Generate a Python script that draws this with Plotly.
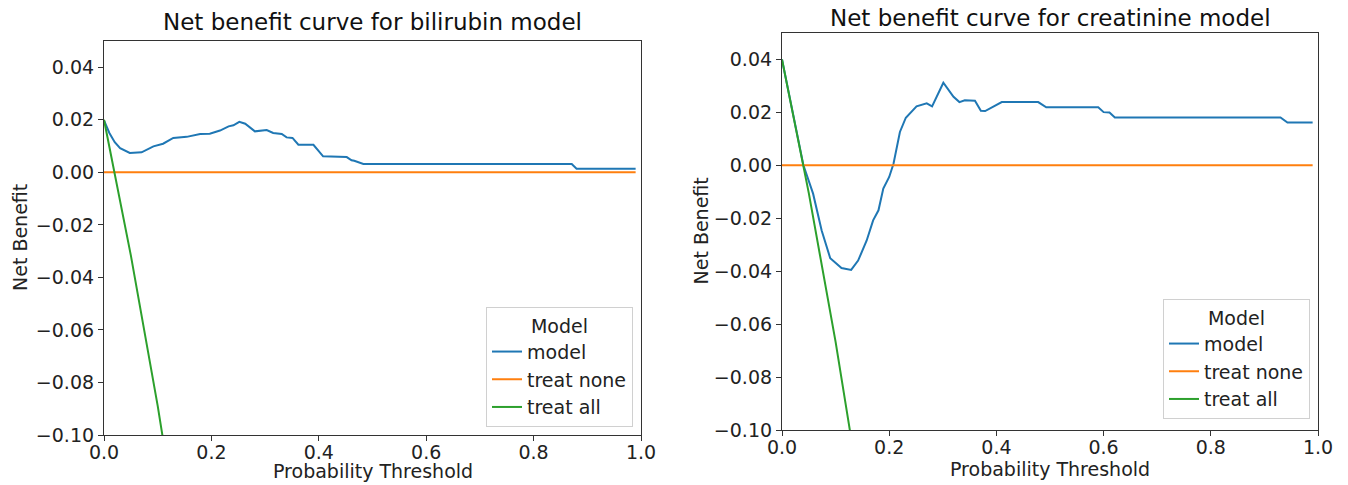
import plotly.graph_objects as go

# ---------------- data ----------------
# Bilirubin model (left panel)
bili_threshold = [0.00, 0.01, 0.02, 0.03, 0.048, 0.07, 0.092, 0.11, 0.129, 0.154, 0.179, 0.197,
                  0.216, 0.232, 0.241, 0.252, 0.263, 0.281, 0.303, 0.315, 0.331, 0.340, 0.351,
                  0.362, 0.390, 0.408, 0.452, 0.461, 0.466, 0.483, 0.871, 0.880, 0.99]
bili_model = [0.0198, 0.0150, 0.0115, 0.0092, 0.0074, 0.0076, 0.0099, 0.0109, 0.0131, 0.0135,
              0.0146, 0.0147, 0.0159, 0.0175, 0.0179, 0.0192, 0.0185, 0.0156, 0.0161, 0.0150,
              0.0146, 0.0133, 0.0131, 0.0105, 0.0105, 0.0061, 0.0058, 0.0046, 0.0044, 0.0032,
              0.0032, 0.0014, 0.0014]
bili_none_x = [0.0, 0.99]
bili_none_y = [0.0, 0.0]
bili_all_x = [0.00, 0.05, 0.10, 0.12, 0.15]
bili_all_y = [0.0200, -0.0316, -0.0889, -0.1136, -0.1529]

# Creatinine model (right panel)
crea_threshold = [0.00, 0.02, 0.04, 0.058, 0.074, 0.09, 0.111, 0.129, 0.142, 0.158, 0.170, 0.180,
                  0.189, 0.200, 0.208, 0.220, 0.231, 0.251, 0.270, 0.280, 0.301, 0.320, 0.331,
                  0.341, 0.360, 0.371, 0.379, 0.410, 0.478, 0.493, 0.590, 0.600, 0.611, 0.621,
                  0.930, 0.943, 0.99]
crea_model = [0.0400, 0.0200, 0.0000, -0.0107, -0.0246, -0.0351, -0.0388, -0.0395, -0.0360,
              -0.0284, -0.0208, -0.0170, -0.0088, -0.0044, 0.0006, 0.0126, 0.0180, 0.0223,
              0.0234, 0.0223, 0.0312, 0.0259, 0.0239, 0.0246, 0.0244, 0.0206, 0.0205, 0.0239,
              0.0239, 0.0219, 0.0219, 0.0201, 0.0200, 0.0181, 0.0181, 0.0162, 0.0162]
crea_none_x = [0.0, 0.99]
crea_none_y = [0.0, 0.0]
crea_all_x = [0.00, 0.05, 0.10, 0.12, 0.15]
crea_all_y = [0.0400, -0.0105, -0.0667, -0.0909, -0.1294]

series_names = ["model", "treat none", "treat all"]
series_colors = ["#1f77b4", "#ff7f0e", "#2ca02c"]

y_ticks = [-0.10, -0.08, -0.06, -0.04, -0.02, 0.00, 0.02, 0.04]
x_ticks = [0.0, 0.2, 0.4, 0.6, 0.8, 1.0]

titles = ["Net benefit curve for bilirubin model", "Net benefit curve for creatinine model"]
x_label = "Probability Threshold"
y_label = "Net Benefit"
legend_title = "Model"

# ---------------- figure ----------------
OFF = 8                      # page body margin of the html page
W, H = 1348 - OFF, 485 - OFF
FONT = "DejaVu Sans"


def px(xw):
    return (xw - OFF) / W


def py(yw):
    return 1 - (yw - OFF) / H


fig = go.Figure()

panels = [
    ("x", "y", "legend", [(bili_threshold, bili_model), (bili_none_x, bili_none_y), (bili_all_x, bili_all_y)]),
    ("x2", "y2", "legend2", [(crea_threshold, crea_model), (crea_none_x, crea_none_y), (crea_all_x, crea_all_y)]),
]
for xa, ya, lg, data in panels:
    for (xs, ys), name, col in zip(data, series_names, series_colors):
        fig.add_trace(go.Scatter(x=xs, y=ys, mode="lines", name=name, xaxis=xa, yaxis=ya,
                                 legend=lg, line=dict(color=col, width=2), cliponaxis=True))

axis_common = dict(showgrid=False, zeroline=False, showline=True, mirror=True, automargin=False,
                   linecolor="#333333", linewidth=1.2, ticks="outside", ticklen=5,
                   tickcolor="#333333", tickfont=dict(family=FONT, size=19, color="#222222"))

# window-pixel boxes of the two plot areas: (left, right, top, bottom)
box1 = (104, 641, 41, 435)
box2 = (782, 1318, 33, 430)

legend_common = dict(xanchor="right", yanchor="bottom", bgcolor="white",
                     bordercolor="#d0d0d0", borderwidth=1,
                     font=dict(family=FONT, size=19, color="#222222"),
                     title=dict(text=legend_title, side="top center", font=dict(size=19)))

fig.update_layout(
    width=W, height=H,
    margin=dict(l=0, r=0, t=0, b=0),
    paper_bgcolor="white", plot_bgcolor="white",
    font=dict(family=FONT, color="#222222"),
    xaxis=dict(domain=[px(box1[0]), px(box1[1])], range=[0, 1], tickvals=x_ticks,
               tickformat=".1f", anchor="y", ticklabelstandoff=-5, **axis_common),
    yaxis=dict(domain=[py(box1[3]), py(box1[2])], range=[-0.10, 0.05], tickvals=y_ticks,
               tickformat=".2f", anchor="x", **axis_common),
    xaxis2=dict(domain=[px(box2[0]), px(box2[1])], range=[0, 1], tickvals=x_ticks,
                tickformat=".1f", anchor="y2", ticklabelstandoff=-5, **axis_common),
    yaxis2=dict(domain=[py(box2[3]), py(box2[2])], range=[-0.10, 0.05], tickvals=y_ticks,
                tickformat=".2f", anchor="x2", **axis_common),
    legend=dict(x=px(633), y=py(427), **legend_common),
    legend2=dict(x=px(1310), y=py(419), **legend_common),
    showlegend=True,
)

# titles
for t, b, yw in [(titles[0], box1, 22), (titles[1], box2, 18)]:
    fig.add_annotation(text=t, xref="paper", yref="paper", x=px((b[0] + b[1]) / 2),
                       y=py(yw), xanchor="center", yanchor="middle", showarrow=False,
                       font=dict(family=FONT, size=23, color="#111111"))

# axis labels
for b, xt_y, yl_x in [(box1, 471, 20), (box2, 469, 700)]:
    fig.add_annotation(text=x_label, xref="paper", yref="paper", x=px((b[0] + b[1]) / 2),
                       y=py(xt_y), xanchor="center", yanchor="middle", showarrow=False,
                       font=dict(family=FONT, size=19, color="#222222"))
    fig.add_annotation(text=y_label, xref="paper", yref="paper", x=px(yl_x),
                       y=py((b[2] + b[3]) / 2), xanchor="center", yanchor="middle",
                       textangle=-90, showarrow=False,
                       font=dict(family=FONT, size=19, color="#222222"))

fig.write_html("out.html")
